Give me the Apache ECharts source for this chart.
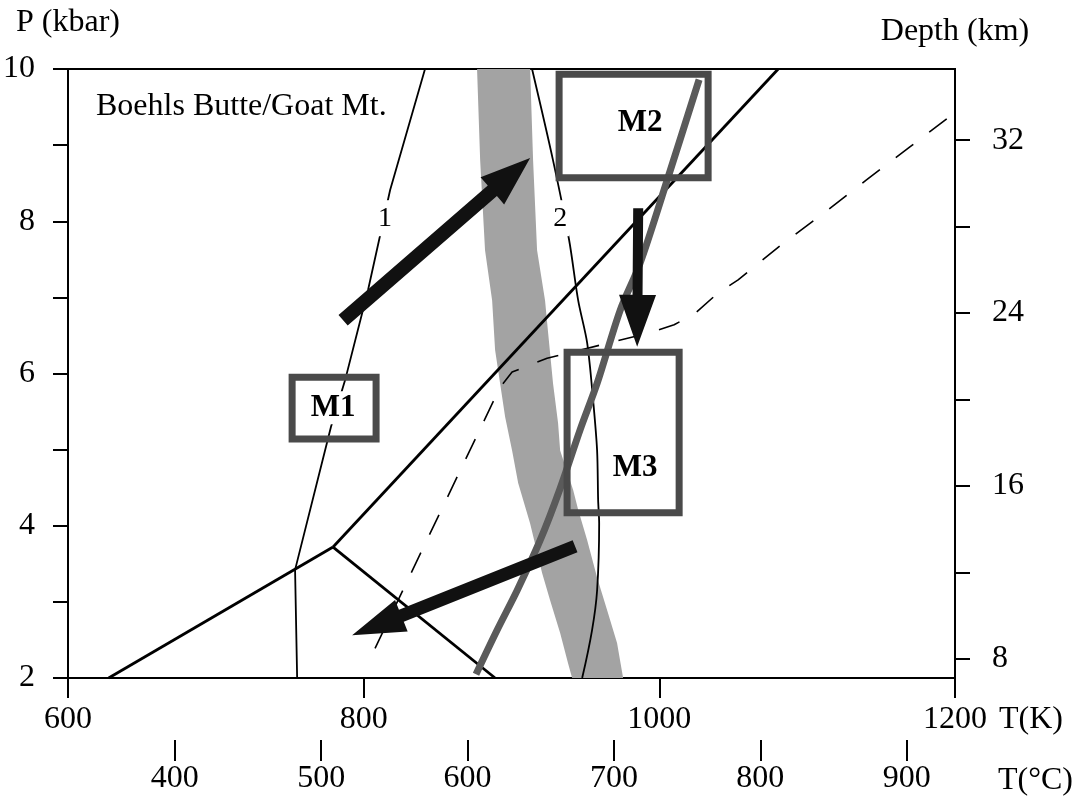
<!DOCTYPE html>
<html><head><meta charset="utf-8">
<script src="https://cdn.jsdelivr.net/npm/echarts@6/dist/echarts.min.js"></script>
<style>html,body{margin:0;padding:0;background:#fff}#c{width:1082px;height:801px}</style>
</head><body><div id="c"></div>
<script>
// ---- tick values ----
const tempKTicks = [600, 800, 1000, 1200];
const tempCTicks = [400, 500, 600, 700, 800, 900];
const depthTicks = [8, 12, 16, 20, 24, 28, 32];
const depthLabels = [8, 16, 24, 32];

// ---- curves: [T (K), P (kbar)] ----
const curve1 = [[841.5,10],[817.9,8.41],[803.0,7.10],[787.4,5.91],[777.9,5.30],[753.6,3.42],[755,2]];
const curve2 = [[913.9,10],[928.1,8.80],[939.0,7.75],[945.1,6.96],[951.2,6.40],[955.2,5.65],[957.9,4.99],[958.6,4.34],[959.3,4.03],[957.9,3.15],[954.5,2.63],[947.8,2]];
const kyAnd = [[627.5,2],[779.3,3.72]];
const kySil = [[779.3,3.72],[1080.4,10]];
const andSil = [[779.3,3.72],[888.9,2]];
const dashedCurve = [[807.7,2.39],[892.3,5.82],[900.4,6.02],[924.1,6.20],[992.4,6.53],[1010.0,6.64],[1024.2,6.79],[1039.8,7.06],[1053.3,7.23],[1082.4,7.69],[1111.5,8.11],[1139.9,8.54],[1169.7,8.98],[1198.1,9.40]];
const thickPath = [[876.0,2.05],[890.3,2.63],[903.8,3.15],[919.4,3.81],[932.9,4.49],[946.4,5.26],[957.9,5.87],[973.5,6.83],[987.0,7.45],[1005.3,8.54],[1026.9,9.86]];
const bandLeft = [[876.7,10],[878.8,8.80],[882.1,7.62],[886.9,6.96],[888.9,6.31],[892.3,5.87],[895.7,5.43],[900.4,4.99],[904.5,4.56],[912.6,4.03],[920.7,3.38],[926.1,3.02],[932.9,2.59],[938.3,2.19],[941.0,2]];
const bandRight = [[912.6,10],[914.6,8.80],[917.3,7.62],[922.7,6.96],[924.8,6.53],[928.1,5.87],[931.5,5.35],[932.9,4.99],[941.7,4.47],[945.1,4.21],[951.2,3.81],[957.9,3.32],[964.7,2.89],[971.4,2.46],[975.5,2]];

// ---- boxes: [Tmin, Pmin, Tmax, Pmax] ----
const boxNames = ['M1', 'M2', 'M3'];
const boxRanges = [[751.6,5.14,808.4,5.95],[932.2,8.57,1033.0,9.93],[937.6,4.17,1013.4,6.28]];
const boxLabelAt = [[779.3,5.55],[987.0,9.29],[983.6,4.76]];

// ---- curve labels ----
const curveLabelNames = ['1', '2'];
const curveLabelAt = [[814.5,8.04],[932.9,8.04]];

// ---- arrows: [Ttail, Ptail, Ttip, Ptip] ----
const arrows = [[786.1,6.70,912.6,8.83],[985.7,8.17,985.0,6.35],[943.0,3.73,792.2,2.56]];

const FONT = 'Liberation Serif';
const FS = 32;
const arrowShape = [{shaft:14, head:50, headW:36},{shaft:10, head:52, headW:37},{shaft:13, head:53, headW:34}];

const chart = echarts.init(document.getElementById('c'), null, {renderer:'canvas'});

function lineSeries(data, opts) {
  return Object.assign({type:'line', data:data, symbol:'none', silent:true, animation:false,
    xAxisIndex:0, yAxisIndex:0}, opts);
}
const plain = v => String(Math.round(v));

chart.setOption({
  animation: false,
  backgroundColor: '#fff',
  grid: {left:68, right:127, top:69, bottom:123, show:true, borderColor:'#000', borderWidth:2, backgroundColor:'transparent'},
  xAxis: [
    {type:'value', position:'bottom', min:600, max:1200, interval:200,
     axisLine:{lineStyle:{color:'#000', width:2}},
     axisTick:{length:20, lineStyle:{color:'#000', width:2}},
     axisLabel:{color:'#000', fontFamily:FONT, fontSize:FS, margin:26, formatter:plain},
     splitLine:{show:false}},
    {type:'value', position:'bottom', offset:62, min:327, max:933,
     axisLine:{show:false},
     axisTick:{show:true, customValues:tempCTicks, length:21, lineStyle:{color:'#000', width:2}},
     axisLabel:{customValues:tempCTicks, color:'#000', fontFamily:FONT, fontSize:FS, margin:23, formatter:plain},
     splitLine:{show:false}}
  ],
  yAxis: [
    {type:'value', position:'left', min:2, max:10, interval:1,
     name:'P (kbar)', nameLocation:'end', nameGap:30,
     nameTextStyle:{color:'#000', fontFamily:FONT, fontSize:FS},
     axisLine:{lineStyle:{color:'#000', width:2}},
     axisTick:{length:15, lineStyle:{color:'#000', width:2}},
     axisLabel:{color:'#000', fontFamily:FONT, fontSize:FS, margin:33, padding:[0,0,8,0],
       formatter: v => (v % 2 === 0 ? String(v) : '')},
     splitLine:{show:false}},
    {type:'value', position:'right', min:7.12, max:35.29,
     name:'Depth (km)', nameLocation:'end', nameGap:21,
     nameTextStyle:{color:'#000', fontFamily:FONT, fontSize:FS},
     axisLine:{show:true, lineStyle:{color:'#000', width:2}},
     axisTick:{show:true, customValues:depthTicks, length:15, lineStyle:{color:'#000', width:2}},
     axisLabel:{customValues:depthLabels, color:'#000', fontFamily:FONT, fontSize:FS, margin:37, padding:[0,0,8,0], formatter:plain},
     splitLine:{show:false}}
  ],
  graphic: [
    {type:'text', left:96, top:91, style:{text:'Boehls Butte/Goat Mt.', font:FS + 'px "Liberation Serif"', fill:'#000'}},
    {type:'text', left:999, top:704, style:{text:'T(K)', font:FS + 'px "Liberation Serif"', fill:'#000'}},
    {type:'text', left:998, top:765, style:{text:'T(°C)', font:FS + 'px "Liberation Serif"', fill:'#000'}}
  ],
  series: [
    {type:'custom', coordinateSystem:'cartesian2d', xAxisIndex:0, yAxisIndex:0, silent:true, z:1,
     data:[bandLeft[0]],
     renderItem:(params, api) => {
       const pts = bandLeft.concat(bandRight.slice().reverse()).map(p => api.coord(p));
       return {type:'polygon', shape:{points:pts}, style:{fill:'#a3a3a3'}};
     }},
    lineSeries(dashedCurve, {z:3, lineStyle:{color:'#000', width:1.6, type:[22,20]}}),
    lineSeries(kyAnd, {z:3, lineStyle:{color:'#000', width:2.8}}),
    lineSeries(kySil, {z:3, lineStyle:{color:'#000', width:2.8}}),
    lineSeries(andSil, {z:3, lineStyle:{color:'#000', width:2.8}}),
    lineSeries(curve1, {z:3, lineStyle:{color:'#000', width:1.8}}),
    lineSeries(curve2, {z:3, smooth:0.3, lineStyle:{color:'#000', width:1.8}}),
    lineSeries(thickPath, {z:4, smooth:0.3, lineStyle:{color:'#5a5a5a', width:7}}),
    {type:'custom', coordinateSystem:'cartesian2d', xAxisIndex:0, yAxisIndex:0, silent:true, z:5,
     data:boxRanges, encode:{x:[0,2], y:[1,3]},
     renderItem:(params, api) => {
       const p1 = api.coord([api.value(0), api.value(3)]);
       const p2 = api.coord([api.value(2), api.value(1)]);
       return {type:'rect', shape:{x:p1[0], y:p1[1], width:p2[0]-p1[0], height:p2[1]-p1[1]},
               style:{fill:'none', stroke:'#4a4a4a', lineWidth:7}};
     }},
    {type:'custom', coordinateSystem:'cartesian2d', xAxisIndex:0, yAxisIndex:0, silent:true, z:6,
     data:boxLabelAt,
     renderItem:(params, api) => {
       const p = api.coord([api.value(0), api.value(1)]);
       return {type:'text', x:p[0], y:p[1], style:{text:boxNames[params.dataIndex], fill:'#000',
         font:'bold 31px "Liberation Serif"', align:'center', verticalAlign:'middle',
         backgroundColor:'#fff', padding:[1,2]}};
     }},
    {type:'custom', coordinateSystem:'cartesian2d', xAxisIndex:0, yAxisIndex:0, silent:true, z:6,
     data:curveLabelAt,
     renderItem:(params, api) => {
       const p = api.coord([api.value(0), api.value(1)]);
       return {type:'text', x:p[0], y:p[1], style:{text:curveLabelNames[params.dataIndex], fill:'#000',
         font:'28px "Liberation Serif"', align:'center', verticalAlign:'middle',
         backgroundColor:'#fff', padding:[4,2]}};
     }},
    {type:'custom', coordinateSystem:'cartesian2d', xAxisIndex:0, yAxisIndex:0, silent:true, z:8,
     data:arrows, encode:{x:[0,2], y:[1,3]},
     renderItem:(params, api) => {
       const a = api.coord([api.value(0), api.value(1)]);
       const b = api.coord([api.value(2), api.value(3)]);
       const s = arrowShape[params.dataIndex];
       const dx = b[0]-a[0], dy = b[1]-a[1], L = Math.hypot(dx, dy);
       const ux = dx/L, uy = dy/L, nx = -uy, ny = ux;
       const hb = [b[0]-ux*s.head, b[1]-uy*s.head];
       const w = s.shaft/2, hw = s.headW/2;
       const pts = [
         [a[0]+nx*w, a[1]+ny*w], [hb[0]+nx*w, hb[1]+ny*w], [hb[0]+nx*hw, hb[1]+ny*hw],
         b, [hb[0]-nx*hw, hb[1]-ny*hw], [hb[0]-nx*w, hb[1]-ny*w], [a[0]-nx*w, a[1]-ny*w]
       ];
       return {type:'polygon', shape:{points:pts}, style:{fill:'#111'}};
     }}
  ]
});
</script>
</body></html>
